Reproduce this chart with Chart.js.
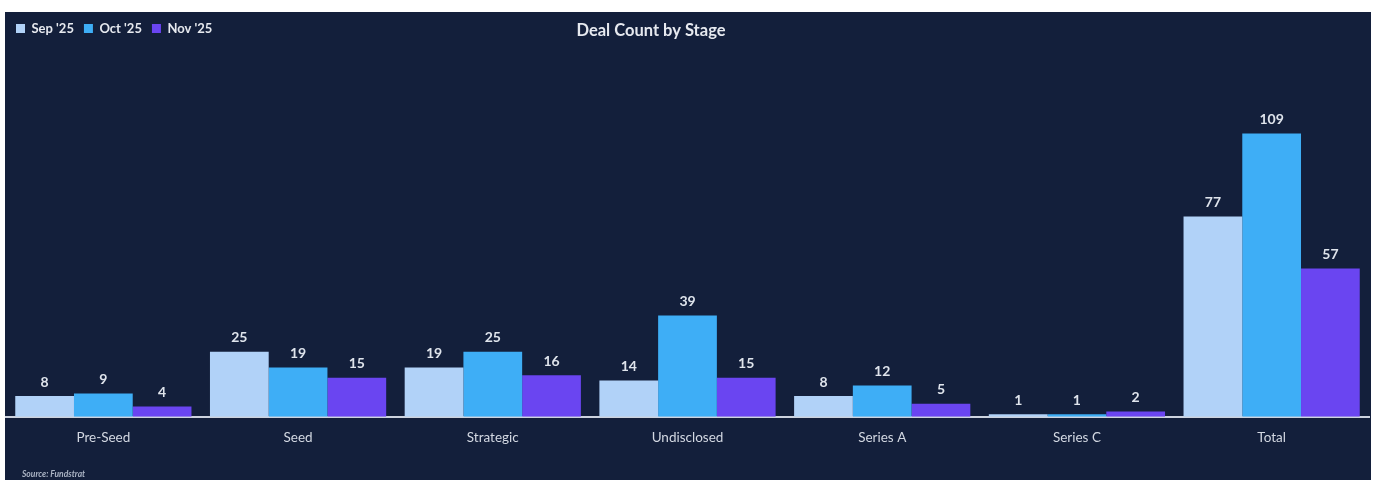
<!DOCTYPE html>
<html lang="en">
<head>
    <meta charset="UTF-8">
    <title>Deal Count by Stage</title>
    <script src="https://cdn.jsdelivr.net/npm/chart.js"></script>
    <style>
        body {
            margin: 0;
            background: #ffffff;
        }
        #panel {
            position: absolute;
            left: 5px;
            top: 12px;
            width: 1366px;
            height: 468px;
            background: #131f3b;
        }
    </style>
</head>
<body>
    <div id="panel"><canvas id="dealChart"></canvas></div>
    <script>
        const stages = ['Pre-Seed', 'Seed', 'Strategic', 'Undisclosed', 'Series A', 'Series C', 'Total'];
        const sep25 = [8, 25, 19, 14, 8, 1, 77];
        const oct25 = [9, 19, 25, 39, 12, 1, 109];
        const nov25 = [4, 15, 16, 15, 5, 2, 57];
        const chartTitle = 'Deal Count by Stage';
        const sourceNote = 'Source: Fundstrat';

        // counts above the bars, plus the title and source note
        const annotations = {
            id: 'annotations',
            afterDatasetsDraw(chart) {
                const ctx = chart.ctx;
                ctx.save();
                ctx.font = 'bold 14px Lato';
                ctx.fillStyle = '#dfe4ec';
                ctx.textAlign = 'center';
                ctx.textBaseline = 'bottom';
                chart.data.datasets.forEach((ds, i) => {
                    chart.getDatasetMeta(i).data.forEach((bar, j) => {
                        ctx.fillText(ds.data[j], bar.x, bar.y - 7);
                    });
                });

                ctx.textBaseline = 'middle';
                ctx.font = 'bold 16.5px Lato';
                ctx.fillStyle = '#e6e9ef';
                ctx.fillText(chartTitle, 646, 19);

                ctx.textAlign = 'left';
                ctx.font = 'italic bold 8.5px Lato';
                ctx.fillStyle = '#aab3c4';
                ctx.fillText(sourceNote, 17, 462);
                ctx.restore();
            }
        };

        const ctx = document.getElementById('dealChart').getContext('2d');
        new Chart(ctx, {
            type: 'bar',
            data: {
                labels: stages,
                datasets: [
                    { label: "Sep '25", data: sep25, backgroundColor: '#b1d2f8' },
                    { label: "Oct '25", data: oct25, backgroundColor: '#3eaef6' },
                    { label: "Nov '25", data: nov25, backgroundColor: '#6a45f1' }
                ]
            },
            options: {
                responsive: true,
                maintainAspectRatio: false,
                animation: false,
                layout: { padding: { left: 1, right: 2, top: 0, bottom: 29 } },
                datasets: {
                    bar: { categoryPercentage: 0.905, barPercentage: 1.0 }
                },
                plugins: {
                    title: { display: false },
                    legend: {
                        position: 'top',
                        align: 'start',
                        labels: {
                            color: '#e6e9ef',
                            font: { family: 'Lato', size: 13, weight: 'bold' },
                            boxWidth: 9,
                            boxHeight: 9,
                            padding: 10
                        }
                    },
                    tooltip: { enabled: false }
                },
                scales: {
                    x: {
                        grid: { display: false },
                        border: { color: '#cdd3df', width: 2 },
                        ticks: {
                            color: '#d3d8e2',
                            font: { family: 'Lato', size: 13.5 },
                            padding: 5
                        }
                    },
                    y: {
                        display: false,
                        min: 0,
                        max: 143
                    }
                }
            },
            plugins: [annotations]
        });
    </script>
</body>
</html>
